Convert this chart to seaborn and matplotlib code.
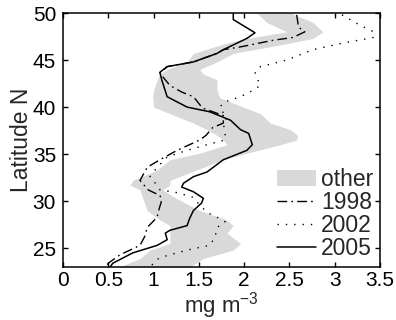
import matplotlib
matplotlib.use("Agg")
import matplotlib.pyplot as plt
import seaborn as sns
import pandas as pd
from matplotlib.patches import Patch
from matplotlib.lines import Line2D

# ---- data ----
lat_2005 = [50, 49.3, 47.9, 47.3, 46.1, 45.7, 44.8, 44.3, 43.7, 42.9, 41.1, 40.0, 39.5, 38.6, 37.6,
            37.2, 36.0, 35.4, 34.4, 33.1, 32.6, 31.9, 31.5, 31.0, 30.3, 29.8, 29.0, 28.2, 27.4, 26.9,
            26.6, 25.9, 25.3, 24.5, 23.4, 23.0]
val_2005 = [1.88, 1.88, 2.12, 2.03, 1.77, 1.70, 1.44, 1.15, 1.07, 1.09, 1.15, 1.37, 1.62, 1.85, 1.96,
            2.05, 2.09, 2.03, 1.77, 1.59, 1.44, 1.33, 1.31, 1.44, 1.55, 1.53, 1.44, 1.40, 1.37, 1.18,
            1.13, 1.15, 1.04, 0.77, 0.55, 0.52]

lat_1998 = [49.8, 48.5, 48.0, 47.4, 47.1, 46.4, 46.1, 45.7, 44.8, 44.3, 43.6, 42.3, 41.6, 41.1, 39.9,
            39.1, 38.3, 37.8, 37.0, 36.5, 35.4, 34.4, 33.6, 32.2, 31.2, 30.6, 30.1, 28.8, 28.3, 27.2,
            26.2, 25.3, 24.3, 23.4, 23.0]
val_1998 = [2.58, 2.60, 2.67, 2.54, 2.32, 1.96, 1.77, 1.70, 1.44, 1.15, 1.07, 1.18, 1.31, 1.44, 1.54,
            1.77, 1.77, 1.65, 1.58, 1.51, 1.26, 1.07, 0.93, 0.85, 0.94, 1.07, 1.09, 1.05, 1.04, 0.93,
            0.90, 0.85, 0.63, 0.50, 0.47]

lat_2002 = [49.8, 48.7, 48.0, 47.4, 46.8, 46.1, 45.0, 44.3, 43.7, 43.1, 42.3, 41.8, 41.1, 40.5, 39.9,
            38.9, 38.3, 37.2, 36.5, 36.0, 35.4, 34.7, 33.6, 32.6, 31.9, 31.2, 30.9, 30.4, 29.8, 28.8,
            28.3, 27.8, 27.2, 26.2, 25.3, 24.8, 24.0, 23.4, 23.0]
val_2002 = [3.08, 3.28, 3.43, 3.43, 3.09, 2.76, 2.47, 2.18, 2.12, 2.14, 2.18, 2.10, 1.96, 1.77, 1.73,
            1.81, 1.77, 1.79, 1.79, 1.59, 1.37, 1.15, 1.04, 0.96, 1.02, 1.07, 1.26, 1.44, 1.49, 1.59,
            1.70, 1.79, 1.70, 1.68, 1.62, 1.37, 1.07, 0.99, 0.98]

lat_other = [50, 49, 48, 47.3, 46.7, 45.7, 44.8, 44.0, 43.5, 42.9, 41.8, 41.0, 40.0, 39.3, 38.3,
             37.6, 37.0, 36.5, 36.0, 35.1, 34.4, 33.3, 32.2, 31.7, 31.2, 30.3, 29.0, 28.0, 27.4,
             26.6, 25.5, 24.8, 23.9, 23.0]
lo_other = [2.14, 2.25, 2.47, 2.03, 1.77, 1.44, 1.37, 1.15, 1.07, 1.04, 1.00, 0.99, 1.00, 1.18, 1.44,
            1.59, 1.70, 1.77, 1.81, 1.51, 1.18, 1.04, 0.77, 0.74, 0.85, 0.88, 0.93, 1.07, 1.18,
            1.18, 1.18, 0.96, 0.85, 0.62]
hi_other = [2.51, 2.76, 2.87, 2.76, 2.45, 1.88, 1.70, 1.51, 1.55, 1.70, 1.70, 1.73, 1.99, 2.18, 2.29,
            2.51, 2.59, 2.58, 2.40, 2.03, 1.77, 1.47, 1.18, 1.18, 1.10, 1.25, 1.51, 1.81, 1.88,
            1.81, 1.96, 1.88, 1.55, 1.40]

x_ticks = [0, 0.5, 1, 1.5, 2, 2.5, 3, 3.5]
x_ticklabels = ["0", "0.5", "1", "1.5", "2", "2.5", "3", "3.5"]
y_ticks = [25, 30, 35, 40, 45, 50]
labels = ["other", "1998", "2002", "2005"]

# ---- style ----
sns.set_theme(style="ticks")
plt.rcParams["font.family"] = ["Liberation Sans", "DejaVu Sans"]
plt.rcParams["mathtext.fontset"] = "custom"
plt.rcParams["mathtext.rm"] = "Liberation Sans"

fig = plt.figure(figsize=(3.96, 3.20), dpi=100)
ax = fig.add_axes([63 / 396, 1 - 267 / 320, (380 - 63) / 396, (267 - 13) / 320])

band_color = "#d9d9d9"
ax.fill_betweenx(lat_other, lo_other, hi_other, color=band_color, lw=0, zorder=1)

df98 = pd.DataFrame({"val": val_1998, "lat": lat_1998})
df02 = pd.DataFrame({"val": val_2002, "lat": lat_2002})
df05 = pd.DataFrame({"val": val_2005, "lat": lat_2005})

dashdot = [7, 3, 1.2, 3]
dotted = (0, (1, 5))

sns.lineplot(data=df98, x="val", y="lat", sort=False, estimator=None, ax=ax,
             color="black", lw=1.0, zorder=3)
ax.lines[-1].set_dashes(dashdot)
sns.lineplot(data=df02, x="val", y="lat", sort=False, estimator=None, ax=ax,
             color="black", lw=1.0, zorder=3)
ax.lines[-1].set_linestyle(dotted)
sns.lineplot(data=df05, x="val", y="lat", sort=False, estimator=None, ax=ax,
             color="black", lw=1.1, zorder=4)

ax.set_xlim(0, 3.5)
ax.set_ylim(23, 50)
ax.set_xticks(x_ticks)
ax.set_xticklabels(x_ticklabels)
ax.set_yticks(y_ticks)
ax.tick_params(direction="in", length=3.5, width=1.0, top=True, right=True,
               labelsize=15, colors="black")
ax.tick_params(axis="x", pad=3)
ax.tick_params(axis="y", pad=5)
for s in ax.spines.values():
    s.set_linewidth(1.1)
    s.set_color("black")

ax.set_xlabel("mg m$^{\\mathregular{-3}}$", fontsize=16, labelpad=0)
ax.set_ylabel("Latitude N", fontsize=16.5, labelpad=0)

handles = [
    Patch(facecolor=band_color, edgecolor="none"),
    Line2D([], [], color="black", lw=1.0, dashes=dashdot),
    Line2D([], [], color="black", lw=1.0, linestyle=dotted),
    Line2D([], [], color="black", lw=1.1),
]
leg = ax.legend(handles, labels, loc="lower right", frameon=False, fontsize=16.5,
                handlelength=1.7, handletextpad=0.2, labelspacing=0.0,
                borderpad=0.0, borderaxespad=0.3)

fig.savefig("out.png", dpi=100)
